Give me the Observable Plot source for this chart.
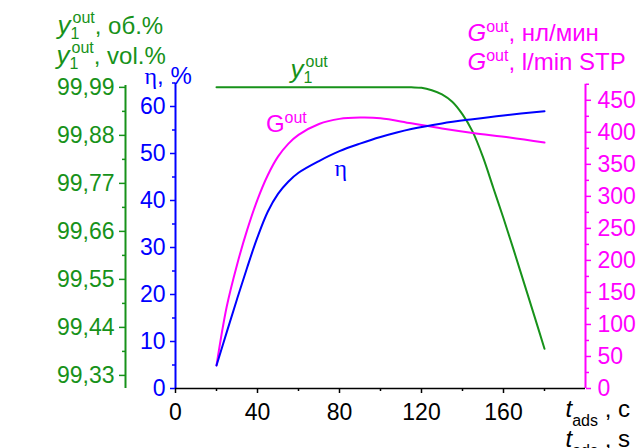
<!DOCTYPE html>
<html><head><meta charset="utf-8">
<script src="https://cdn.jsdelivr.net/npm/d3@7"></script>
<script src="https://cdn.jsdelivr.net/npm/@observablehq/plot@0.6"></script>
<style>html,body{margin:0;padding:0;background:#fff}#chart svg{display:block}</style>
</head><body><div id="chart"></div>
<script>
// ---------- data ----------
const tEta   = [20, 25, 30, 35, 40, 45, 50, 55, 60, 70, 80, 90, 100, 115, 130, 145, 160, 180];
const etaVal = [4.9, 12.0, 19.0, 25.8, 32.2, 37.6, 41.4, 44.0, 45.9, 48.4, 50.5, 52.1, 53.5, 55.2, 56.4, 57.3, 58.1, 59];

const tG   = [20, 25, 30, 35, 40, 45, 50, 55, 60, 70, 80, 90, 100, 115, 130, 145, 163, 180];
const gVal = [36, 128, 193, 248, 295, 333, 362, 382, 396, 413, 421, 423, 422, 414, 406, 399, 392, 384];

const tY   = [20, 40, 60, 80, 100, 115, 120, 125, 130, 135, 140, 145, 150, 155, 160, 165, 170, 175, 180];
const yVal = [99.99, 99.99, 99.99, 99.99, 99.99, 99.990, 99.989, 99.9835, 99.974, 99.957, 99.928, 99.888, 99.830, 99.760, 99.690, 99.617, 99.542, 99.467, 99.391];

const xTicks = [0, 40, 80, 120, 160];
const xMinor = [20, 60, 100, 140, 180];
const etaTicks = [0, 10, 20, 30, 40, 50, 60];
const etaMinor = [5, 15, 25, 35, 45, 55, 65];
const gTicks = [0, 50, 100, 150, 200, 250, 300, 350, 400, 450];
const gMinor = [25, 75, 125, 175, 225, 275, 325, 375, 425, 475];
const yTicks = [99.33, 99.44, 99.55, 99.66, 99.77, 99.88, 99.99];
const yTickLabels = ["99,33", "99,44", "99,55", "99,66", "99,77", "99,88", "99,99"];
const yMinor = [99.385, 99.495, 99.605, 99.715, 99.825, 99.935];

// ---------- scale mapping (all three share the η frame) ----------
const ETA_MAX = 65;
const G_MAX = 477;
const Y_MIN = 99.30, Y_MAX = 100.00;
const gToEta = g => g * ETA_MAX / G_MAX;
const yToEta = v => (v - Y_MIN) * ETA_MAX / (Y_MAX - Y_MIN);

const GREEN = "#17921a", BLUE = "#0000ff", MAG = "#ff00ff";
const FONT = "'Liberation Sans', Arial, sans-serif";

const etaLine = tEta.map((t, i) => ({t, v: etaVal[i]}));
const gLine = tG.map((t, i) => ({t, v: gToEta(gVal[i])}));
const yLine = tY.map((t, i) => ({t, v: yToEta(yVal[i])}));

const labelFor = (vals, labels, f) => d => {
  const i = vals.findIndex(v => Math.abs(f(v) - d) < 1e-6);
  return i >= 0 ? labels[i] : "";
};

// rich text segments: [text, style, baselineShift, stack]
const RICH = {
  "y1out, об.%": [["y", "iy", 0], ["1", "s", 5], ["out", "s", -11, true], [", об.%", "n", 0]],
  "y1out, vol.%": [["y", "iy", 0], ["1", "s", 5], ["out", "s", -11, true], [", vol.%", "n", 0]],
  "η, %": [["η", "g", 0], [", %", "n", 0]],
  "Gout, нл/мин": [["G", "i", 0], ["out", "s", -9], [", нл/мин", "n", 0]],
  "Gout, l/min STP": [["G", "i", 0], ["out", "s", -9], [", l/min STP", "n", 0]],
  "tads , c": [["t", "i", 0], ["ads", "s", 8.5], [" , c", "n", 0]],
  "tads , s": [["t", "i", 0], ["ads", "s", 8.5], [" , s", "n", 0]],
  "y1out": [["y", "iy", 0], ["1", "s", 5], ["out", "s", -11, true]],
  "Gout": [["G", "n", 0], ["out", "s", -9]],
  "η": [["η", "g", 0]]
};

const title = (txt, color, anchor, dx, dy) =>
  Plot.text([txt], {frameAnchor: anchor, text: d => d, dx, dy, fill: color, fontSize: 24,
    textAnchor: "start", lineAnchor: "bottom"});

const plot = Plot.plot({
  width: 639, height: 448,
  marginLeft: 175, marginRight: 54, marginTop: 82.5, marginBottom: 60,
  x: {domain: [0, 200]},
  y: {domain: [0, ETA_MAX]},
  style: {fontFamily: FONT, fontSize: "23px", background: "white", overflow: "visible", color: "black"},
  marks: [
    // axis lines
    Plot.ruleX([0], {y1: 0, y2: ETA_MAX, stroke: BLUE, strokeWidth: 2}),
    Plot.ruleX([0], {y1: 0, y2: yToEta(99.994), stroke: GREEN, strokeWidth: 2, dx: -50}),
    Plot.ruleX([200], {y1: 0, y2: gToEta(475), stroke: MAG, strokeWidth: 2}),
    Plot.ruleY([0], {x1: 0, x2: 200, stroke: "black", strokeWidth: 1.5}),
    // x axis
    Plot.axisX(xTicks, {anchor: "bottom", tickSize: 5, tickPadding: 10, label: null, stroke: "black", fill: "black", strokeWidth: 1.5, tickFormat: d => String(d)}),
    Plot.axisX(xMinor, {anchor: "bottom", tickSize: 3, label: null, stroke: "black", fill: "none", strokeWidth: 1.5}),
    // η axis
    Plot.axisY(etaTicks, {anchor: "left", tickSize: 5, tickPadding: 5, label: null, stroke: BLUE, fill: BLUE, strokeWidth: 1.5, tickFormat: d => String(d)}),
    Plot.axisY(etaMinor, {anchor: "left", tickSize: 3, label: null, stroke: BLUE, fill: "none", strokeWidth: 1.5}),
    // green axis
    Plot.axisY(yTicks.map(yToEta), {anchor: "left", dx: -50, tickSize: 6, tickPadding: 5, label: null, stroke: GREEN, fill: GREEN, strokeWidth: 1.5, tickFormat: labelFor(yTicks, yTickLabels, yToEta)}),
    Plot.axisY(yMinor.map(yToEta), {anchor: "left", dx: -50, tickSize: 3, label: null, stroke: GREEN, fill: "none", strokeWidth: 1.5}),
    // G axis
    Plot.axisY(gTicks.map(gToEta), {anchor: "right", tickSize: 5, tickPadding: 7, label: null, stroke: MAG, fill: MAG, strokeWidth: 1.5, tickFormat: labelFor(gTicks, gTicks.map(String), gToEta)}),
    Plot.axisY(gMinor.map(gToEta), {anchor: "right", tickSize: 3, label: null, stroke: MAG, fill: "none", strokeWidth: 1.5}),
    // curves
    Plot.line(yLine, {x: "t", y: "v", stroke: GREEN, strokeWidth: 2, curve: "catmull-rom"}),
    Plot.line(gLine, {x: "t", y: "v", stroke: MAG, strokeWidth: 2, curve: "catmull-rom"}),
    Plot.line(etaLine, {x: "t", y: "v", stroke: BLUE, strokeWidth: 2, curve: "catmull-rom"}),
    // in-plot labels
    Plot.text(["y1out"], {x: 56.1, y: 65.96, text: d => d, fill: GREEN, fontSize: 24, textAnchor: "start", lineAnchor: "bottom"}),
    Plot.text(["Gout"], {x: 44.1, y: 54.47, text: d => d, fill: MAG, fontSize: 24, textAnchor: "start", lineAnchor: "bottom"}),
    Plot.text(["η"], {x: 77.6, y: 45.3, text: d => d, fill: BLUE, fontSize: 24, textAnchor: "start", lineAnchor: "bottom"}),
    // axis titles
    title("y1out, об.%", GREEN, "top-left", -118, -49.5),
    title("y1out, vol.%", GREEN, "top-left", -119, -19.5),
    title("η, %", BLUE, "top-left", -31, 0.5),
    title("Gout, нл/мин", MAG, "top-left", 292, -42.5),
    title("Gout, l/min STP", MAG, "top-left", 292, -13.5),
    title("tads , c", "black", "bottom-left", 390, 28.5),
    title("tads , s", "black", "bottom-left", 390, 58.7)
  ]
});

document.getElementById("chart").appendChild(plot);

// build sub/superscripts as tspans
d3.select(plot).selectAll("text").each(function () {
  const segs = RICH[this.textContent];
  if (!segs) return;
  const el = d3.select(this);
  el.text(null);
  let prevShift = 0, prevNode = null;
  for (const [txt, style, shift = 0, stack = false] of segs) {
    const ts = el.append("tspan").text(txt);
    if (style === "i") ts.attr("font-style", "italic");
    if (style === "iy") ts.attr("font-style", "italic").attr("font-size", 26);
    if (style === "s") ts.attr("font-size", 16);
    if (style === "g") ts.attr("font-family", "'Liberation Serif', 'DejaVu Serif', serif");
    const dy = shift - prevShift;
    if (dy) ts.attr("dy", dy);
    if (stack && prevNode) ts.attr("dx", -prevNode.getComputedTextLength() + 2);
    prevShift = shift;
    prevNode = ts.node();
  }
});
</script>
</body></html>
